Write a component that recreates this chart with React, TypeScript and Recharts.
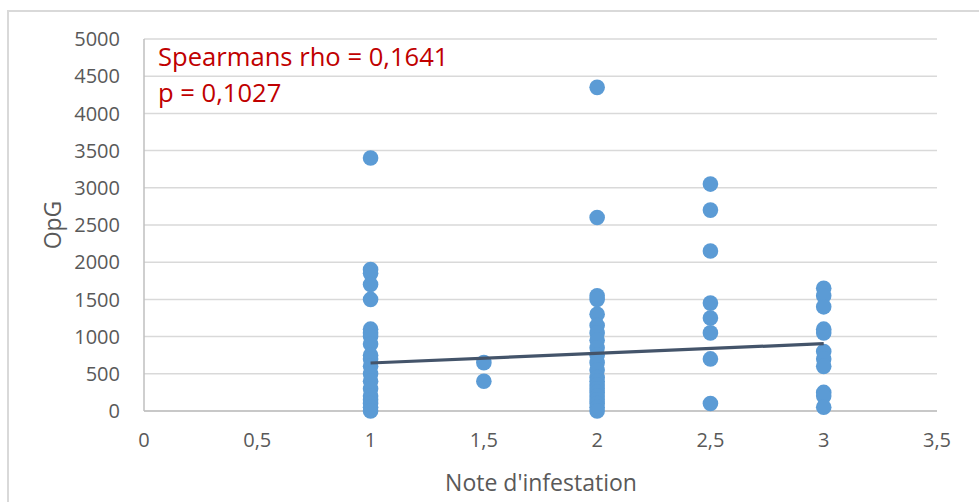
import { ScatterChart, Scatter, XAxis, YAxis, CartesianGrid } from 'recharts'

// OpG values read per infestation score
const note1 = [3400, 1900, 1850, 1700, 1500, 1100, 1050, 1000, 900, 750, 700, 600, 500, 400, 300, 200, 150, 100, 50, 0]
const note15 = [650, 400]
const note2 = [4350, 2600, 1550, 1500, 1300, 1150, 1050, 950, 850, 750, 650, 550, 450, 400, 350, 300, 250, 200, 150, 100, 50, 0]
const note25 = [3050, 2700, 2150, 1450, 1250, 1050, 700, 100]
const note3 = [1650, 1550, 1400, 1100, 1050, 800, 700, 600, 250, 200, 50]

const trendX = [1, 3]
const trendY = [645, 905]

const xTicks = [0, 0.5, 1, 1.5, 2, 2.5, 3, 3.5]
const yTicks = [0, 500, 1000, 1500, 2000, 2500, 3000, 3500, 4000, 4500, 5000]

const groups: [number, number[]][] = [
  [1, note1],
  [1.5, note15],
  [2, note2],
  [2.5, note25],
  [3, note3],
]

const points = groups.flatMap(([x, ys]) => ys.map((y) => ({ x, y })))
const trend = trendX.map((x, i) => ({ x, y: trendY[i] }))

const font = '"Open Sans", sans-serif'
const tickStyle = { fill: '#595959', fontSize: 20, fontFamily: font }

export default function App() {
  return (
    <div style={{ position: 'absolute', left: 0, top: 0, width: 979, height: 502, overflow: 'hidden', background: '#fff' }}>
      <div
        style={{
          position: 'absolute',
          left: 7,
          top: 10,
          width: 1100,
          height: 700,
          border: '2px solid #D9D9D9',
          boxSizing: 'border-box',
        }}
      />
      <div style={{ position: 'absolute', left: 0, top: 0 }}>
        <ScatterChart width={979} height={502} margin={{ top: 39, right: 42, left: 0, bottom: 0 }}>
          <CartesianGrid vertical={false} stroke="#D9D9D9" strokeWidth={1.5} />
          <XAxis
            type="number"
            dataKey="x"
            domain={[0, 3.5]}
            ticks={xTicks}
            tick={tickStyle}
            tickFormatter={(v: number) => String(v).replace('.', ',')}
            tickLine={false}
            tickSize={0}
            tickMargin={22}
            stroke="#BFBFBF"
            strokeWidth={1.5}
            height={91}
            allowDataOverflow
          />
          <YAxis
            type="number"
            dataKey="y"
            domain={[0, 5000]}
            ticks={yTicks}
            tick={tickStyle}
            tickLine={false}
            tickSize={0}
            tickMargin={24}
            stroke="#BFBFBF"
            strokeWidth={1.5}
            width={144}
            interval={0}
          />
          <Scatter data={points} fill="#5B9BD5" isAnimationActive={false} shape={(p: any) => <circle cx={p.cx} cy={p.cy} r={7.8} fill="#5B9BD5" />} />
          <Scatter
            data={trend}
            line={{ stroke: '#44546A', strokeWidth: 3.2 }}
            lineType="joint"
            shape={() => <g />}
            isAnimationActive={false}
          />
        </ScatterChart>
      </div>
      <div
        style={{
          position: 'absolute',
          left: 541,
          top: 482,
          transform: 'translate(-50%, -50%)',
          fontFamily: font,
          fontSize: 23,
          color: '#595959',
          whiteSpace: 'nowrap',
        }}
      >
        Note d'infestation
      </div>
      <div
        style={{
          position: 'absolute',
          left: 52,
          top: 225,
          transform: 'translate(-50%, -50%) rotate(-90deg)',
          fontFamily: font,
          fontSize: 23,
          color: '#595959',
          whiteSpace: 'nowrap',
        }}
      >
        OpG
      </div>
      <div
        style={{
          position: 'absolute',
          left: 158,
          top: 39,
          fontFamily: font,
          fontSize: 25.6,
          lineHeight: '36px',
          color: '#C00000',
          whiteSpace: 'nowrap',
        }}
      >
        <div>Spearmans rho = 0,1641</div>
        <div>p = 0,1027</div>
      </div>
    </div>
  )
}
